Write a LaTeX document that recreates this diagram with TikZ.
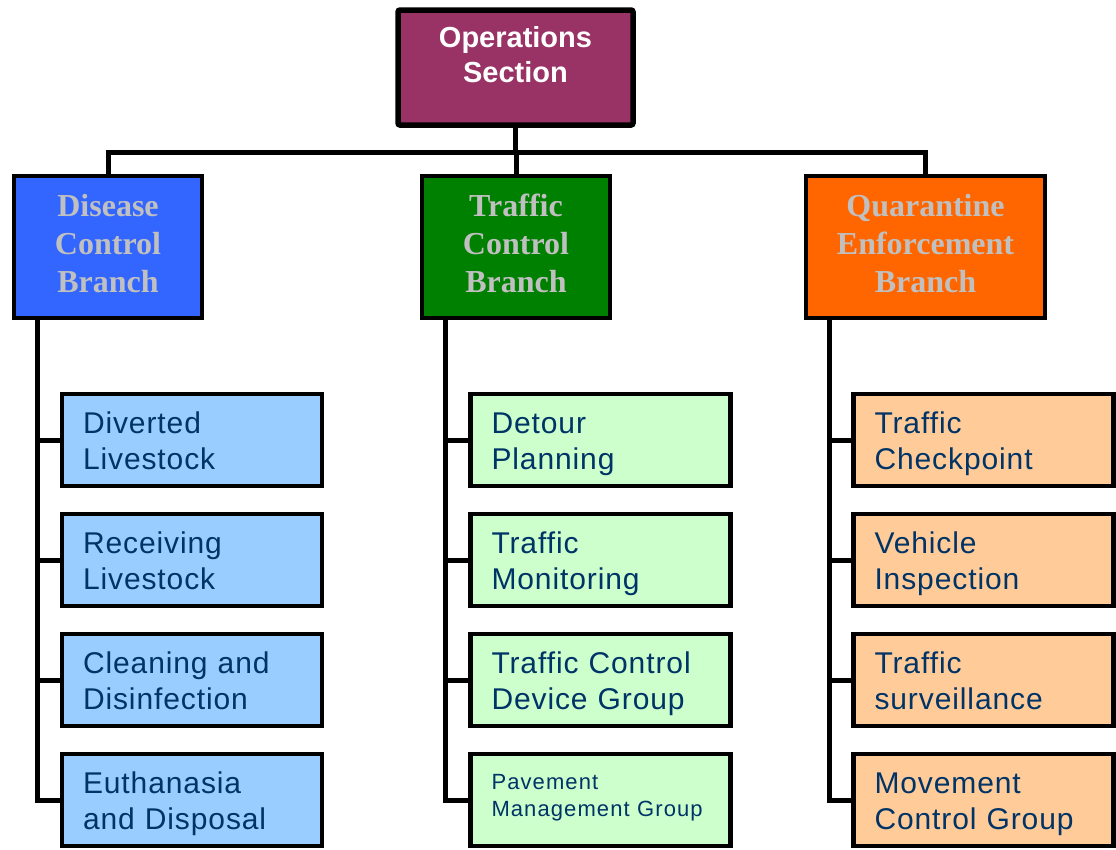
\documentclass[tikz,border=0pt]{standalone}
\usepackage{fontspec}
\setmainfont{Liberation Sans}
\newfontfamily\branchserif{Liberation Serif}
\newfontfamily\unitsans[LetterSpace=3]{Liberation Sans}
\newfontfamily\smallunitsans[LetterSpace=5]{Liberation Sans}
\definecolor{sectionfill}{HTML}{993366}
\definecolor{diseasefill}{HTML}{3366FF}
\definecolor{trafficfill}{HTML}{008000}
\definecolor{quarfill}{HTML}{FF6600}
\definecolor{branchtext}{HTML}{C0C0C0}
\definecolor{diseaselight}{HTML}{99CCFF}
\definecolor{trafficlight}{HTML}{CCFFCC}
\definecolor{quarlight}{HTML}{FFCC99}
\definecolor{unittext}{HTML}{003366}
\tikzset{
  sectionbox/.style={draw=black, line width=5.5pt, rounded corners=2pt, fill=sectionfill,
    minimum width=235pt, minimum height=115pt, inner sep=0pt, align=center,
    text depth=26pt, text=white, font=\fontsize{29}{35}\selectfont\bfseries},
  branchbox/.style={draw=black, line width=4pt, minimum height=142pt, inner sep=0pt,
    align=center, text depth=8pt, text=branchtext,
    font=\branchserif\fontsize{32}{38}\selectfont\bfseries},
  unitbox/.style={draw=black, line width=4.5pt, minimum width=260pt, minimum height=92pt,
    inner xsep=21pt, inner ysep=0pt, text width=218pt, align=left, text=unittext,
    text height=22pt, text depth=36pt, font=\unitsans\fontsize{30}{36}\selectfont},
  smallunit/.style={text height=16pt, text depth=37.5pt,
    font=\smallunitsans\fontsize{22}{27}\selectfont},
  conn/.style={draw=black, line width=5pt}
}
\begin{document}
\begin{tikzpicture}[x=1pt, y=-1pt]
\useasboundingbox (0,0) rectangle (1116,849);

% section head
\node[sectionbox] (ops) at (515.5,67.5) {Operations\\Section};

% branches
\node[branchbox, fill=diseasefill, minimum width=188pt] (dis) at (108,247) {Disease\\Control\\Branch};
\node[branchbox, fill=trafficfill, minimum width=188pt] (trf) at (516,247) {Traffic\\Control\\Branch};
\node[branchbox, fill=quarfill, minimum width=239pt] (qua) at (925.5,247) {Quarantine\\Enforcement\\Branch};

% disease control units
\node[unitbox, fill=diseaselight] (d1) at (192,440) {Diverted\\Livestock};
\node[unitbox, fill=diseaselight] (d2) at (192,560) {Receiving\\Livestock};
\node[unitbox, fill=diseaselight] (d3) at (192,680) {Cleaning and\\Disinfection};
\node[unitbox, fill=diseaselight] (d4) at (192,800) {Euthanasia\\and Disposal};

% traffic control units
\node[unitbox, fill=trafficlight] (t1) at (600.5,440) {Detour\\Planning};
\node[unitbox, fill=trafficlight] (t2) at (600.5,560) {Traffic\\Monitoring};
\node[unitbox, fill=trafficlight] (t3) at (600.5,680) {Traffic Control\\Device Group};
\node[unitbox, fill=trafficlight, smallunit] (t4) at (600.5,800) {Pavement\\Management Group};

% quarantine enforcement units
\node[unitbox, fill=quarlight] (q1) at (983.5,440) {Traffic\\Checkpoint};
\node[unitbox, fill=quarlight] (q2) at (983.5,560) {Vehicle\\Inspection};
\node[unitbox, fill=quarlight] (q3) at (983.5,680) {Traffic\\surveillance};
\node[unitbox, fill=quarlight] (q4) at (983.5,800) {Movement\\Control Group};

% bus from the section to the branches
\coordinate (bus) at (516,152);
\draw[conn] (ops.south) -- (ops.south |- bus);
\draw[conn] (dis.north) |- (bus) -| (qua.north);
\draw[conn] (trf.north) -- (trf.north |- bus);

% spines down each branch
\coordinate (ds) at (37,0);
\coordinate (ts) at (445,0);
\coordinate (qs) at (829,0);
\foreach \s/\b/\u in {ds/dis/d, ts/trf/t, qs/qua/q} {
  \draw[conn] (\s |- \b.south) |- (\u4.west);
  \foreach \i in {1,2,3} {
    \draw[conn] (\s |- \u\i.west) -- (\u\i.west);
  }
}
\end{tikzpicture}
\end{document}
